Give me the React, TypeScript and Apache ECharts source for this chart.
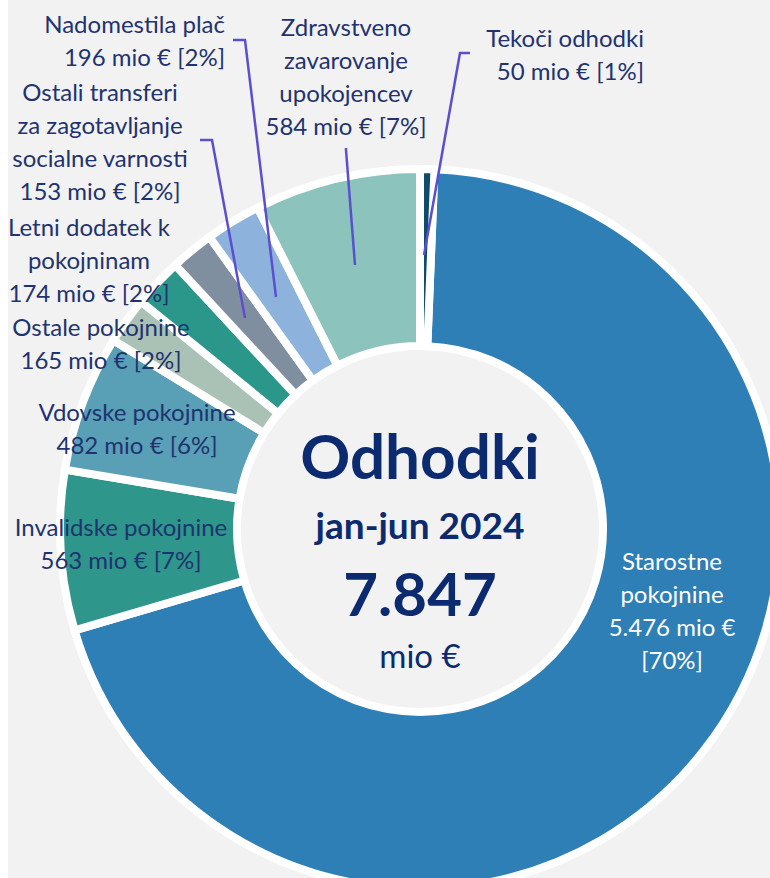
import React, { useEffect, useRef } from 'react';
import * as echarts from 'echarts';

// ---- data ----
const categories = [
  'Starostne\npokojnine',
  'Invalidske pokojnine',
  'Vdovske pokojnine',
  'Ostale pokojnine',
  'Letni dodatek k\npokojninam',
  'Ostali transferi\nza zagotavljanje\nsocialne varnosti',
  'Nadomestila plač',
  'Zdravstveno\nzavarovanje\nupokojencev',
  'Tekoči odhodki',
];
const values = [5476, 563, 482, 165, 174, 153, 196, 584, 50];
const percents = [70, 7, 6, 2, 2, 2, 2, 7, 1];
const centerTitle = 'Odhodki';
const centerPeriod = 'jan-jun 2024';
const centerTotal = '7.847';
const centerUnit = 'mio €';
const unit = 'mio €';

// ---- styles / layout ----
const colors = ['#2e7fb6', '#2e968a', '#599fb5', '#aac2b5', '#2b978b', '#808fa0', '#8db3dd', '#8cc3bd', '#0f4a6a'];
const labelPos = [
  { x: 664, y: 610, align: 'center' },
  { x: 113, y: 543, align: 'center' },
  { x: 129, y: 428, align: 'center' },
  { x: 93, y: 343, align: 'center' },
  { x: 81, y: 259, align: 'center' },
  { x: 92, y: 141, align: 'center' },
  { x: 217, y: 40, align: 'right' },
  { x: 338, y: 76, align: 'center' },
  { x: 636, y: 54, align: 'right' },
];
const leaderLines: (number[][] | null)[] = [
  null, null, null, null, null,
  [[237, 318], [204, 140], [192, 140]],
  [[268, 297], [237, 40], [225, 40]],
  [[347, 265], [338, 150], [338, 148]],
  [[416, 255], [452, 53], [462, 53]],
];

const fmt = (v: number) => String(v).replace(/\B(?=(\d{3})+(?!\d))/g, '.');

const TEXT = '#1f3370';
const CENTER = '#0b2a6f';
const LINE = '#5b4fcf';
const FONT = 'Lato, "Open Sans", sans-serif';

export default function App() {
  const ref = useRef<HTMLDivElement>(null);
  useEffect(() => {
    const chart = echarts.init(ref.current!, null, { renderer: 'svg' });
    const cx = 412;
    const common = {
      type: 'pie',
      radius: [183, 360],
      center: [cx, 529],
      startAngle: 87.7,
      clockwise: true,
      avoidLabelOverlap: false,
      silent: true,
      emphasis: { disabled: true },
    };
    chart.setOption({
      animation: false,
      backgroundColor: 'transparent',
      series: [
        {
          ...common,
          z: 2,
          itemStyle: { borderColor: '#ffffff', borderWidth: 8 },
          label: { show: false },
          labelLine: { show: false },
          data: values.map((v, i) => ({
            value: v,
            name: categories[i],
            itemStyle: { color: colors[i] },
          })),
        },
        {
          ...common,
          z: 5,
          itemStyle: { color: 'rgba(0,0,0,0)', borderWidth: 0 },
          label: {
            show: true,
            position: 'outside',
            color: TEXT,
            fontFamily: FONT,
            fontSize: 24,
            lineHeight: 33,
            formatter: (p: any) => {
              const i = p.dataIndex;
              const sep = i === 0 ? '\n' : ' ';
              return `${categories[i]}\n${fmt(values[i])} ${unit}${sep}[${percents[i]}%]`;
            },
          },
          labelLine: { show: true, lineStyle: { color: LINE, width: 2.5 } },
          labelLayout: (params: any) => {
            const i = params.dataIndex;
            const L = labelPos[i];
            const out: any = { x: L.x, y: L.y, align: L.align, verticalAlign: 'middle' };
            if (leaderLines[i]) out.labelLinePoints = leaderLines[i];
            return out;
          },
          data: values.map((v, i) => ({
            value: v,
            name: categories[i],
            itemStyle: { color: 'rgba(0,0,0,0)' },
            label: i === 0 ? { color: '#ffffff' } : {},
            labelLine: { show: !!leaderLines[i] },
          })),
        },
      ],
      graphic: [
        {
          type: 'text', x: cx, y: 455, z: 10,
          style: { text: centerTitle, fill: CENTER, fontFamily: FONT, fontWeight: 'bold', fontSize: 62, textAlign: 'center', textVerticalAlign: 'middle' },
        },
        {
          type: 'text', x: cx, y: 524, z: 10,
          style: { text: centerPeriod, fill: CENTER, fontFamily: FONT, fontWeight: 'bold', fontSize: 37, textAlign: 'center', textVerticalAlign: 'middle' },
        },
        {
          type: 'text', x: cx, y: 593, z: 10,
          style: { text: centerTotal, fill: CENTER, fontFamily: FONT, fontWeight: 'bold', fontSize: 60, textAlign: 'center', textVerticalAlign: 'middle' },
        },
        {
          type: 'text', x: cx, y: 655, z: 10,
          style: { text: centerUnit, fill: CENTER, fontFamily: FONT, fontSize: 33, textAlign: 'center', textVerticalAlign: 'middle' },
        },
      ],
    });
    return () => chart.dispose();
  }, []);
  return (
    <div style={{ position: 'absolute', left: 0, top: 0, width: 770, height: 878, background: '#ffffff', overflow: 'hidden' }}>
      <div ref={ref} style={{ position: 'absolute', left: 8, top: 0, width: 762, height: 878, background: '#f2f2f2' }} />
    </div>
  );
}
